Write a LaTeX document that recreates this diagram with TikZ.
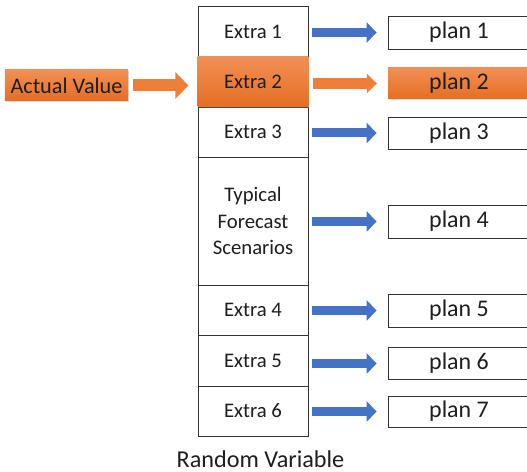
\documentclass[tikz,border=0pt]{standalone}
\usepackage{fontspec}
\setmainfont{Carlito}
\usetikzlibrary{arrows.meta,shadows}
\definecolor{txt}{HTML}{1E1E1E}
\definecolor{bluearr}{HTML}{4472C4}
\definecolor{orTop}{HTML}{F28F55}
\definecolor{orBot}{HTML}{E56E22}
\definecolor{orArr}{HTML}{EE7F38}
\begin{document}
\begin{tikzpicture}[x=1bp,y=-1bp,
  cell/.style={draw=black!80, line width=0.8bp, fill=white, minimum width=110bp, inner sep=0pt,
    align=center, font=\fontsize{20.8}{26.5}\selectfont, text=txt},
  hotcell/.style={minimum width=110.8bp, inner sep=0pt, align=center,
    font=\fontsize{20.8}{26.5}\selectfont, text=txt, top color=orTop, bottom color=orBot,
    drop shadow={shadow xshift=1bp,shadow yshift=-1.5bp,opacity=0.3}},
  plan/.style={draw=black!80, line width=0.8bp, fill=white, minimum width=142bp, inner sep=0pt,
    font=\fontsize{24}{28}\selectfont, text=txt},
  hotplan/.style={minimum width=142bp, inner sep=0pt, font=\fontsize{24}{28}\selectfont, text=txt,
    top color=orTop, bottom color=orBot,
    drop shadow={shadow xshift=1bp,shadow yshift=-1.5bp,opacity=0.3}},
  bluearrow/.style={draw=bluearr, line width=9bp, -{Triangle[length=10bp,width=20bp]}},
  orangearrow/.style={draw=orArr, line width=11bp, -{Triangle[length=10bp,width=19bp]}},
  bigarrow/.style={draw=orArr, line width=12bp, -{Triangle[length=13bp,width=26bp]}}
]
\useasboundingbox (0,0) rectangle (527,472);

% column cells
\node[cell, minimum height=51bp] (c1) at (253,31.5) {Extra 1};
\node[cell, minimum height=50bp] (c3) at (253,132) {Extra 3};
\node[cell, minimum height=128bp] (c4) at (253,221) {Typical\\Forecast\\Scenarios};
\node[cell, minimum height=50bp] (c5) at (253,310) {Extra 4};
\node[cell, minimum height=51bp] (c6) at (253,360.5) {Extra 5};
\node[cell, minimum height=50bp] (c7) at (253,411) {Extra 6};
\node[hotcell, minimum height=50bp] (c2) at (253,82) {Extra 2};

% plans
\node[plan, minimum height=33bp] (p1) at (459,32.5) {plan 1};
\node[hotplan, minimum height=31bp] (p2) at (459,83.5) {plan 2};
\node[plan, minimum height=32bp] (p3) at (459,133) {plan 3};
\node[plan, minimum height=33bp] (p4) at (459,221.5) {plan 4};
\node[plan, minimum height=33bp] (p5) at (459,310.5) {plan 5};
\node[plan, minimum height=32bp] (p6) at (459,363.5) {plan 6};
\node[plan, minimum height=31bp] (p7) at (459,411.5) {plan 7};

% actual value
\node[hotplan, minimum width=123bp, minimum height=31bp, font=\fontsize{22.3}{26}\selectfont] (av) at (66.5,85.5) {Actual Value};

% caption
\node[font=\fontsize{24.3}{28}\selectfont, text=txt, anchor=base, inner sep=0pt] (rv) at (260.5,467) {Random Variable};

% arrows
\draw[bigarrow] ([xshift=5bp]av.east) -- ([xshift=-9bp]c2.west |- av.east);
\draw[bluearrow] ([xshift=4bp]c1.east |- p1.west) -- ([xshift=-11bp]p1.west);
\draw[orangearrow] ([xshift=4bp]c2.east |- p2.west) -- ([xshift=-11bp]p2.west);
\draw[bluearrow] ([xshift=4bp]c3.east |- p3.west) -- ([xshift=-11bp]p3.west);
\draw[bluearrow] ([xshift=4bp]c4.east |- p4.west) -- ([xshift=-11bp]p4.west);
\draw[bluearrow] ([xshift=4bp]c5.east |- p5.west) -- ([xshift=-11bp]p5.west);
\draw[bluearrow] ([xshift=4bp]c6.east |- p6.west) -- ([xshift=-11bp]p6.west);
\draw[bluearrow] ([xshift=4bp]c7.east |- p7.west) -- ([xshift=-11bp]p7.west);
\end{tikzpicture}
\end{document}
